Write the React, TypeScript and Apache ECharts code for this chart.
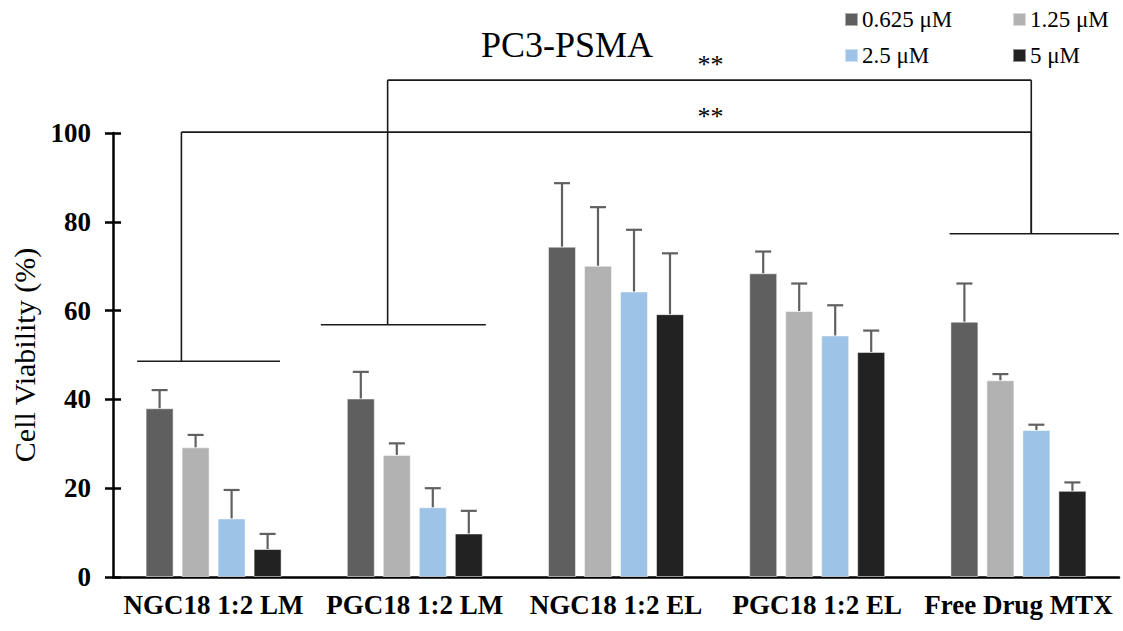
import React, { useEffect, useRef } from "react";
import * as echarts from "echarts";

const categories = ["NGC18 1:2 LM", "PGC18 1:2 LM", "NGC18 1:2 EL", "PGC18 1:2 EL", "Free Drug MTX"];
const seriesNames = ["0.625 μM", "1.25 μM", "2.5 μM", "5 μM"];
const seriesColors = ["#5f5f5f", "#b2b2b2", "#9dc3e6", "#222222"];

const dose0625 = [38.0, 40.2, 74.4, 68.4, 57.5];
const dose125 = [29.2, 27.5, 70.1, 59.9, 44.3];
const dose25 = [13.2, 15.7, 64.3, 54.4, 33.1];
const dose5 = [6.3, 9.8, 59.2, 50.7, 19.4];

const err0625 = [4.1, 6.0, 14.3, 4.9, 8.6];
const err125 = [2.8, 2.6, 13.2, 6.2, 1.4];
const err25 = [6.4, 4.3, 13.9, 6.8, 1.2];
const err5 = [3.4, 5.1, 13.7, 4.8, 1.9];

const values = [dose0625, dose125, dose25, dose5];
const errors = [err0625, err125, err25, err5];

const yTicks = [0, 20, 40, 60, 80, 100];

// group brackets: category index, level (value), left/right ends and drop point as fraction of band
const groupBrackets = [
  { cat: 0, level: 48.6, from: -0.38, to: 0.33, drop: -0.16 },
  { cat: 1, level: 56.8, from: -0.467, to: 0.353, drop: -0.135 },
  { cat: 4, level: 77.3, from: -0.342, to: 0.5, drop: 0.064 },
];
// significance lines: from bracket index to bracket index at level
const sigLines = [
  { a: 0, b: 2, level: 100.2, label: "**" },
  { a: 1, b: 2, level: 111.9, label: "**" },
];

const FONT = "'Liberation Serif', 'Times New Roman', Times, serif";
const BAR_W = 28;
const BAR_GAP = 8;

export default function App() {
  const ref = useRef<HTMLDivElement>(null);

  useEffect(() => {
    if (!ref.current) return;
    const chart = echarts.init(ref.current, undefined, { renderer: "svg" });

    const barSeries = seriesNames.map((name, i) => ({
      name,
      type: "bar",
      yAxisIndex: 0,
      data: values[i],
      barWidth: BAR_W,
      barGap: `${(BAR_GAP / BAR_W) * 100}%`,
      itemStyle: { color: seriesColors[i], borderColor: "rgba(255,255,255,0.5)", borderWidth: 1 },
      z: 2,
    }));

    const errSeries = seriesNames.map((name, i) => ({
      name: name + " err",
      type: "custom",
      yAxisIndex: 0,
      data: values[i].map((v, k) => [k, v, errors[i][k]]),
      encode: { x: 0, y: 1 },
      z: 3,
      renderItem: (params: any, api: any) => {
        const cat = api.value(0);
        const v = api.value(1);
        const e = api.value(2);
        const base = api.coord([cat, v]);
        const top = api.coord([cat, v + e]);
        const x = base[0] + (i - 1.5) * (BAR_W + BAR_GAP);
        const st = { stroke: "#606060", lineWidth: 2.2 };
        return {
          type: "group",
          children: [
            { type: "line", shape: { x1: x, y1: base[1], x2: x, y2: top[1] }, style: st },
            { type: "line", shape: { x1: x - 8, y1: top[1], x2: x + 8, y2: top[1] }, style: st },
          ],
        };
      },
    }));

    const legendPos = [
      { left: 844, top: 8 },
      { left: 1012, top: 8 },
      { left: 844, top: 44 },
      { left: 1012, top: 44 },
    ];

    chart.setOption({
      animation: false,
      backgroundColor: "#ffffff",
      title: {
        text: "PC3-PSMA",
        left: 476,
        top: 22,
        textStyle: { fontFamily: FONT, fontSize: 36, fontWeight: "normal", color: "#000" },
      },
      legend: seriesNames.map((n, i) => ({
        data: [n],
        left: legendPos[i].left,
        top: legendPos[i].top,
        padding: 0,
        itemWidth: 13,
        itemHeight: 13,
        icon: "rect",
        selectedMode: false,
        textStyle: { fontFamily: FONT, fontSize: 23, color: "#000", padding: [0, 0, 0, -1] },
      })),
      grid: { left: 113, right: 4, top: 133, bottom: 54, containLabel: false },
      xAxis: {
        type: "category",
        data: categories,
        axisLine: { lineStyle: { color: "#000", width: 2.5 } },
        axisTick: { show: false },
        axisLabel: {
          fontFamily: FONT,
          fontSize: 27,
          fontWeight: "bold",
          color: "#000",
          margin: 14,
          interval: 0,
        },
      },
      yAxis: [
        {
          type: "value",
          min: 0,
          max: 100,
          interval: 20,
          name: "Cell Viability (%)",
          nameLocation: "middle",
          nameGap: 68,
          nameTextStyle: { fontFamily: FONT, fontSize: 30, color: "#000" },
          axisLine: { show: true, lineStyle: { color: "#000", width: 2.5 } },
          axisTick: { show: true, length: 8, lineStyle: { color: "#000", width: 2.5 } },
          axisLabel: {
            show: true,
            fontFamily: FONT,
            fontSize: 27,
            fontWeight: "bold",
            color: "#000",
            margin: 22,
            formatter: (v: number) => (yTicks.includes(v) ? String(v) : ""),
          },
          splitLine: { show: false },
        },
        {
          type: "value",
          min: 0,
          max: 100,
          interval: 20,
          position: "left",
          axisLine: { show: false },
          axisTick: { show: true, inside: true, length: 8, lineStyle: { color: "#000", width: 2.5 } },
          axisLabel: { show: false },
          splitLine: { show: false },
        },
      ],
      series: [...barSeries, ...errSeries],
    });

    // annotation brackets via the chart's own coordinate conversion
    const c0 = chart.convertToPixel({ gridIndex: 0 }, [0, 0]) as number[];
    const c1 = chart.convertToPixel({ gridIndex: 0 }, [1, 0]) as number[];
    const band = c1[0] - c0[0];
    const px = (cat: number, frac: number, v: number) => {
      const p = chart.convertToPixel({ gridIndex: 0 }, [cat, v]) as number[];
      return [p[0] + frac * band, p[1]];
    };
    const lineStyle = { stroke: "#1a1a1a", lineWidth: 1.6 };
    const els: any[] = [];
    groupBrackets.forEach((b) => {
      const l = px(b.cat, b.from, b.level);
      const r = px(b.cat, b.to, b.level);
      els.push({ type: "line", shape: { x1: l[0], y1: l[1], x2: r[0], y2: r[1] }, style: lineStyle });
    });
    sigLines.forEach((s) => {
      const A = groupBrackets[s.a];
      const B = groupBrackets[s.b];
      const aTop = px(A.cat, A.drop, s.level);
      const aBot = px(A.cat, A.drop, A.level);
      const bTop = px(B.cat, B.drop, s.level);
      const bBot = px(B.cat, B.drop, B.level);
      els.push({ type: "line", shape: { x1: aTop[0], y1: aTop[1], x2: aBot[0], y2: aBot[1] }, style: lineStyle });
      els.push({ type: "line", shape: { x1: bTop[0], y1: bTop[1], x2: bBot[0], y2: bBot[1] }, style: lineStyle });
      els.push({ type: "line", shape: { x1: aTop[0], y1: aTop[1], x2: bTop[0], y2: bTop[1] }, style: lineStyle });
      const mid = px(2, 0.47, s.level);
      els.push({
        type: "text",
        x: mid[0],
        y: aTop[1] - 3,
        style: {
          text: s.label,
          fontFamily: FONT,
          fontSize: 26,
          fill: "#000",
          align: "center",
          verticalAlign: "bottom",
        },
      });
    });
    chart.setOption({ graphic: { elements: els } });

    return () => chart.dispose();
  }, []);

  return (
    <div
      ref={ref}
      style={{ position: "fixed", left: 0, top: 0, width: 1123, height: 631, background: "#fff" }}
    />
  );
}
